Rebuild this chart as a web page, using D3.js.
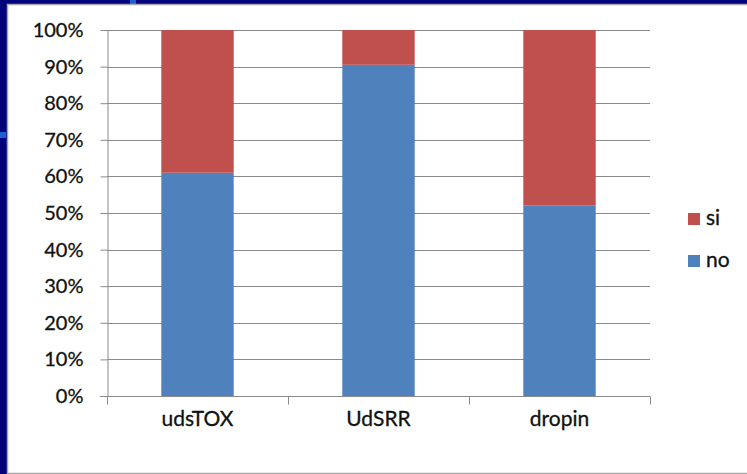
<!DOCTYPE html>
<html>
<head>
<meta charset="utf-8">
<script src="https://cdn.jsdelivr.net/npm/d3@7"></script>
<style>
  html, body { margin: 0; padding: 0; background: #02027a; }
  svg { display: block; }
</style>
</head>
<body>
<div id="chart"></div>
<script>
// stacked 100% columns: "no" at the bottom, "si" on top
var CATEGORIES = ["udsTOX", "UdSRR", "dropin"];
var NO_VALUES = [61, 90.5, 52];
var SI_VALUES = [39, 9.5, 48];
var Y_TICKS = [0, 10, 20, 30, 40, 50, 60, 70, 80, 90, 100];
var SERIES = ["si", "no"];

var BLUE = "#4f81bd", RED = "#c0504d", GRID = "#8a8a8a", INK = "#111111",
    NAVY = "#02027a", FONT = "Lato, 'Open Sans', sans-serif";

var W = 747, H = 474;
var svg = d3.select("#chart").append("svg").attr("width", W).attr("height", H);

// slide background + white chart frame
svg.append("rect").attr("width", W).attr("height", H).attr("fill", NAVY);
svg.append("rect").attr("x", 0).attr("y", 132).attr("width", 6).attr("height", 6).attr("fill", "#1a5fd6");
svg.append("rect").attr("x", 130).attr("y", 0).attr("width", 6).attr("height", 4).attr("fill", "#1a5fd6");
svg.append("rect").attr("x", 7.5).attr("y", 4.5).attr("width", W).attr("height", 469)
  .attr("fill", "#ffffff").attr("stroke", "#a6a6a6").attr("stroke-width", 1.5);

var L = 107, R = 650, T = 30, B = 396;
var x = d3.scaleBand().domain(CATEGORIES).range([L, R]).padding(0);
var xi = d3.scaleLinear().domain([0, CATEGORIES.length]).range([L, R]);
var y = d3.scaleLinear().domain([0, 100]).range([B, T]);
var bw = x.bandwidth() * 0.4;

var rows = CATEGORIES.map(function (c, i) { return { cat: c, no: NO_VALUES[i], si: SI_VALUES[i] }; });
var stack = d3.stack().keys(["no", "si"])(rows);

// gridlines
svg.append("g").selectAll("line").data(Y_TICKS.filter(function (d) { return d > 0; })).enter().append("line")
  .attr("x1", L).attr("x2", R).attr("y1", function (d) { return Math.round(y(d)) + 0.5; })
  .attr("y2", function (d) { return Math.round(y(d)) + 0.5; })
  .attr("stroke", GRID).attr("stroke-width", 1);

// bars
svg.append("g").selectAll("g").data(stack).enter().append("g")
  .attr("fill", function (s) { return s.key === "no" ? BLUE : RED; })
  .selectAll("rect").data(function (s) { return s; }).enter().append("rect")
  .attr("x", function (d) { return x(d.data.cat) + (x.bandwidth() - bw) / 2; })
  .attr("width", bw)
  .attr("y", function (d) { return y(d[1]); })
  .attr("height", function (d) { return y(d[0]) - y(d[1]); });

// left axis
var ya = svg.append("g").attr("transform", "translate(" + (L + 0.5) + ",0)")
  .call(d3.axisLeft(y).tickValues(Y_TICKS).tickFormat(function (d) { return d + "%"; })
    .tickSize(7).tickPadding(17).tickSizeOuter(0));
ya.select(".domain").attr("stroke", GRID);
ya.selectAll(".tick line").attr("stroke", GRID);
ya.selectAll("text").attr("fill", INK).style("font-family", FONT).style("font-size", "20px")
  .style("stroke", INK).style("stroke-width", "0.3px");

// bottom axis: boundary ticks + category labels
var xa = svg.append("g").attr("transform", "translate(0," + (B + 0.5) + ")")
  .call(d3.axisBottom(xi).tickValues(d3.range(CATEGORIES.length + 1)).tickFormat("").tickSize(8).tickSizeOuter(0));
xa.select(".domain").attr("stroke", GRID).attr("d", "M" + (L - 7) + ",0H" + R);
xa.selectAll(".tick line").attr("stroke", GRID);
var xl = svg.append("g").attr("transform", "translate(0," + B + ")")
  .call(d3.axisBottom(x).tickSize(0));
xl.select(".domain").remove();
xl.selectAll("text").attr("y", 30).attr("dy", 0).attr("fill", INK)
  .style("font-family", FONT).style("font-size", "21px")
  .style("stroke", INK).style("stroke-width", "0.3px");

// legend
var lg = svg.append("g").selectAll("g").data(SERIES).enter().append("g")
  .attr("transform", function (d, i) { return "translate(688," + (213 + i * 42) + ")"; });
lg.append("rect").attr("width", 12).attr("height", 12)
  .attr("fill", function (d) { return d === "no" ? BLUE : RED; });
lg.append("text").attr("x", 18).attr("y", 12).text(function (d) { return d; })
  .attr("fill", INK).style("font-family", FONT).style("font-size", "21px")
  .style("stroke", INK).style("stroke-width", "0.3px");
</script>
</body>
</html>
